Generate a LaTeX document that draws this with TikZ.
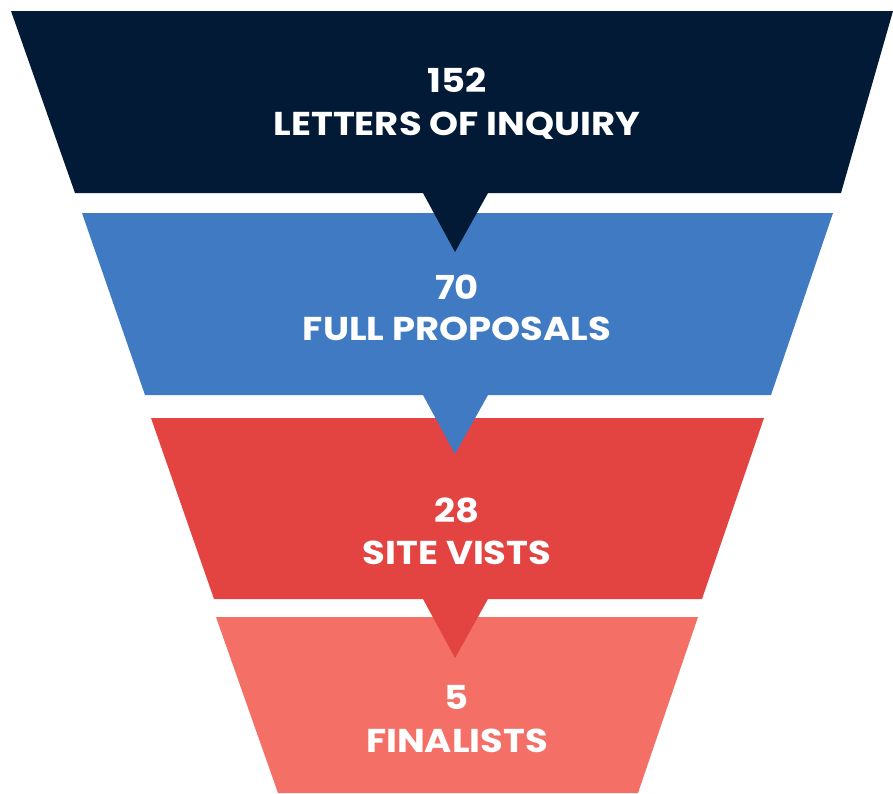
\documentclass[tikz,border=0pt]{standalone}
\usepackage{fontspec}
\usepackage{graphicx}
\setmainfont{Poppins}[UprightFont=* Bold]
\definecolor{cnavy}{HTML}{021A35}
\definecolor{cblue}{HTML}{3F7AC2}
\definecolor{cred}{HTML}{E34441}
\definecolor{csalmon}{HTML}{F47066}
\newcommand{\wide}[1]{\scalebox{1.12}[1]{#1}}
\tikzset{
  lbl/.style={text=white, font=\fontsize{33}{36}\selectfont, inner sep=0pt, anchor=base},
}
\begin{document}
\begin{tikzpicture}[x=1pt,y=-1pt]
\useasboundingbox (0,0) rectangle (893,793);
% layer 4
\fill[csalmon] (216,617) -- (698,617) -- (638,793) -- (278,793) -- cycle;
% layer 3
\fill[cred] (151,418) -- (764,418) -- (702,599) -- (488,599) -- (455,658) -- (423,599) -- (214,599) -- cycle;
% layer 2
\fill[cblue] (82,213) -- (833,213) -- (771,395) -- (488,395) -- (455,454) -- (423,395) -- (145,395) -- cycle;
% layer 1
\fill[cnavy] (11,11) -- (893,11) -- (841,193) -- (488,193) -- (455,252) -- (423,193) -- (75,193) -- cycle;
\node[lbl] (n1) at (457,92) {\wide{152}};
\node[lbl] (t1) at (457,135) {\wide{LETTERS OF INQUIRY}};
\node[lbl] (n2) at (457,299) {\wide{70}};
\node[lbl] (t2) at (457,340) {\wide{FULL PROPOSALS}};
\node[lbl] (n3) at (457,522) {\wide{28}};
\node[lbl] (t3) at (457,564) {\wide{SITE VISTS}};
\node[lbl] (n4) at (457,709) {\wide{5}};
\node[lbl] (t4) at (457,752) {\wide{FINALISTS}};
\end{tikzpicture}
\end{document}
